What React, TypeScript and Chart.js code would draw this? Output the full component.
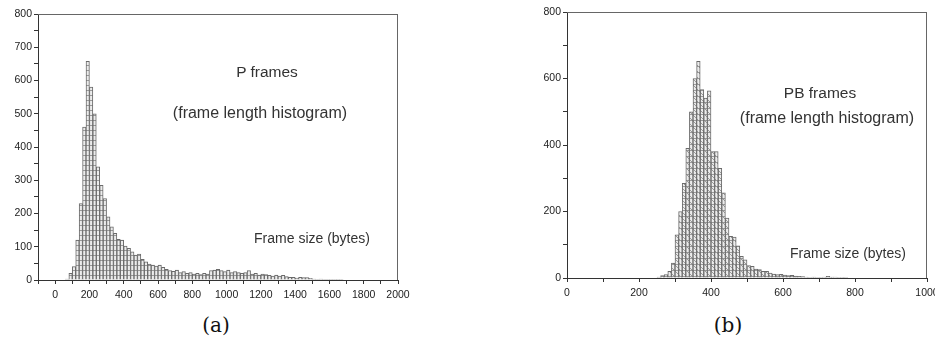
import React, { useEffect, useRef } from 'react';
import { Chart, registerables } from 'chart.js';

Chart.register(...registerables);

// ---- Data: P frames (bin starts, bin width 20 bytes) ----
const pBinWidth = 20;
const pBinStarts = [
  60, 80, 100, 120, 140, 160, 180, 200, 220, 240, 260, 280, 300, 320, 340, 360, 380, 400, 420, 440,
  460, 480, 500, 520, 540, 560, 580, 600, 620, 640, 660, 680, 700, 720, 740, 760, 780, 800, 820, 840,
  860, 880, 900, 920, 940, 960, 980, 1000, 1020, 1040, 1060, 1080, 1100, 1120, 1140, 1160, 1180, 1200,
  1220, 1240, 1260, 1280, 1300, 1320, 1340, 1360, 1380, 1400, 1420, 1440, 1460, 1480, 1500, 1520, 1540,
  1560, 1580, 1600, 1620, 1640, 1660,
];
const pCounts = [
  3, 20, 40, 120, 230, 460, 658, 580, 500, 340, 285, 245, 190, 160, 140, 122, 120, 102, 95, 85,
  75, 78, 62, 55, 48, 45, 42, 45, 38, 32, 28, 26, 30, 22, 25, 20, 22, 18, 20, 16,
  20, 18, 28, 30, 32, 28, 25, 30, 22, 25, 22, 20, 22, 28, 18, 20, 15, 18,
  16, 14, 12, 15, 12, 14, 10, 8, 8, 6, 8, 7, 7, 5, 3, 2, 3,
  2, 2, 2, 2, 1, 2,
];

// ---- Data: PB frames (bin starts, bin width 10 bytes) ----
const pbBinWidth = 10;
const pbBinStarts = [
  250, 260, 270, 280, 290, 300, 310, 320, 330, 340, 350, 360, 370, 380, 390, 400, 410, 420, 430, 440,
  450, 460, 470, 480, 490, 500, 510, 520, 530, 540, 550, 560, 570, 580, 590, 600, 610, 620, 630, 640,
  650, 660, 670, 680, 690, 700, 710, 720, 730, 740, 750, 760, 770,
];
const pbCounts = [
  3, 7, 10, 20, 45, 130, 200, 285, 390, 500, 600, 652, 567, 541, 563, 380, 380, 330, 256, 180,
  125, 123, 97, 65, 55, 37, 35, 27, 25, 20, 20, 15, 12, 10, 11, 9, 7, 8, 6, 5,
  4, 3, 2, 3, 2, 2, 3, 5, 3, 3, 2, 2, 1,
];

// ---- Axis settings ----
const pXMin = -100, pXMax = 2000, pXStep = 100, pXLabelEvery = 200;
const pYMax = 800, pYStep = 50, pYLabelEvery = 100;
const pbXMin = 0, pbXMax = 1000, pbXStep = 100, pbXLabelEvery = 200;
const pbYMax = 800, pbYStep = 100, pbYLabelEvery = 200;

const AXIS = '#333333';
const FRAME = '#666666';
const BAR_EDGE = '#6a6a6a';
const TICK_FONT = { family: '"Liberation Sans", Arial, sans-serif', size: 10.5 };

function makePattern(kind: 'grid' | 'diag'): CanvasPattern | string {
  const c = document.createElement('canvas');
  const n = kind === 'grid' ? 5 : 6;
  c.width = n;
  c.height = n;
  const g = c.getContext('2d');
  if (!g) return '#ddd';
  g.fillStyle = '#ececec';
  g.fillRect(0, 0, n, n);
  g.fillStyle = '#9a9a9a';
  g.fillRect(0, 0, n, 1);
  if (kind === 'diag') {
    g.strokeStyle = '#9a9a9a';
    g.lineWidth = 1;
    g.beginPath();
    g.moveTo(0, 0);
    g.lineTo(n, n);
    g.stroke();
  }
  const p = g.createPattern(c, 'repeat');
  return p || '#ddd';
}

const framePlugin = {
  id: 'frameBox',
  afterDraw(chart: any) {
    const { ctx, chartArea } = chart;
    ctx.save();
    ctx.strokeStyle = FRAME;
    ctx.lineWidth = 1;
    ctx.beginPath();
    ctx.moveTo(chartArea.left, Math.round(chartArea.top) + 0.5);
    ctx.lineTo(chartArea.right, Math.round(chartArea.top) + 0.5);
    ctx.moveTo(Math.round(chartArea.right) - 0.5, chartArea.top);
    ctx.lineTo(Math.round(chartArea.right) - 0.5, chartArea.bottom);
    ctx.stroke();
    ctx.restore();
  },
};

interface HistProps {
  starts: number[];
  counts: number[];
  width: number;
  xMin: number; xMax: number; xStep: number; xLabelEvery: number;
  yMax: number; yStep: number; yLabelEvery: number;
  pattern: 'grid' | 'diag';
  yAxisWidth: number;
  pad: { left: number; right: number; top: number; bottom: number };
  canvasW: number; canvasH: number;
}

function Histogram(props: HistProps) {
  const ref = useRef<HTMLCanvasElement>(null);
  useEffect(() => {
    if (!ref.current) return;
    const data = props.starts.map((s, i) => ({ x: s + props.width / 2, y: props.counts[i] }));
    const chart = new Chart(ref.current, {
      type: 'bar',
      data: {
        datasets: [
          {
            data,
            backgroundColor: makePattern(props.pattern) as any,
            borderColor: BAR_EDGE,
            borderWidth: 1,
            barPercentage: 1,
            categoryPercentage: 1,
            borderSkipped: 'bottom',
          },
        ],
      },
      options: {
        animation: false,
        responsive: false,
        maintainAspectRatio: false,
        layout: { padding: props.pad },
        plugins: { legend: { display: false }, tooltip: { enabled: false } },
        scales: {
          x: {
            type: 'linear',
            min: props.xMin,
            max: props.xMax,
            offset: false,
            afterFit: (s: any) => { s.height = 30; },
            grid: { display: true, offset: false, drawOnChartArea: false, drawTicks: true, tickLength: 4, color: AXIS },
            border: { display: true, color: AXIS },
            ticks: {
              stepSize: props.xStep,
              autoSkip: false,
              maxRotation: 0,
              padding: 5,
              color: '#222',
              font: TICK_FONT,
              callback: (v: any) => (v >= 0 && v % props.xLabelEvery === 0 ? String(v) : ''),
            },
          },
          y: {
            type: 'linear',
            min: 0,
            max: props.yMax,
            afterFit: (s: any) => { s.width = props.yAxisWidth; },
            grid: { display: true, drawOnChartArea: false, drawTicks: true, tickLength: 4, color: AXIS },
            border: { display: true, color: AXIS },
            ticks: {
              stepSize: props.yStep,
              autoSkip: false,
              padding: 2,
              color: '#222',
              font: TICK_FONT,
              callback: (v: any) => (v % props.yLabelEvery === 0 ? String(v) : ''),
            },
          },
        },
      },
      plugins: [framePlugin],
    });
    return () => chart.destroy();
  }, []);
  return <canvas ref={ref} width={props.canvasW} height={props.canvasH} style={{ width: props.canvasW, height: props.canvasH, display: 'block' }} />;
}

const labelStyle = (x: number, y: number, size: number): React.CSSProperties => ({
  position: 'absolute',
  left: x,
  top: y,
  transform: 'translate(-50%, -50%)',
  whiteSpace: 'nowrap',
  fontFamily: '"Liberation Sans", Arial, sans-serif',
  fontSize: size,
  color: '#333',
});

const captionStyle = (x: number, y: number): React.CSSProperties => ({
  position: 'absolute',
  left: x,
  top: y,
  transform: 'translate(-50%, -50%)',
  whiteSpace: 'nowrap',
  fontFamily: '"DejaVu Serif", serif',
  fontSize: 20,
  color: '#111',
});

export default function App() {
  return (
    <div style={{ position: 'fixed', left: 0, top: 0, width: 935, height: 345, overflow: 'hidden', background: '#fff' }}>
      <div style={{ position: 'absolute', left: 0, top: 0 }}>
        <Histogram
          starts={pBinStarts} counts={pCounts} width={pBinWidth}
          xMin={pXMin} xMax={pXMax} xStep={pXStep} xLabelEvery={pXLabelEvery}
          yMax={pYMax} yStep={pYStep} yLabelEvery={pYLabelEvery}
          pattern="grid" yAxisWidth={38}
          pad={{ left: 0, right: 22, top: 14, bottom: 0 }}
          canvasW={420} canvasH={310}
        />
      </div>
      <div style={{ position: 'absolute', left: 500, top: 0 }}>
        <Histogram
          starts={pbBinStarts} counts={pbCounts} width={pbBinWidth}
          xMin={pbXMin} xMax={pbXMax} xStep={pbXStep} xLabelEvery={pbXLabelEvery}
          yMax={pbYMax} yStep={pbYStep} yLabelEvery={pbYLabelEvery}
          pattern="diag" yAxisWidth={67}
          pad={{ left: 0, right: 23, top: 12, bottom: 2 }}
          canvasW={450} canvasH={310}
        />
      </div>
      <div style={labelStyle(267, 72, 15.5)}>P frames</div>
      <div style={labelStyle(260, 113, 16)}>(frame length histogram)</div>
      <div style={labelStyle(312, 238, 14)}>Frame size (bytes)</div>
      <div style={labelStyle(820, 93, 15.5)}>PB frames</div>
      <div style={labelStyle(827, 118, 16)}>(frame length histogram)</div>
      <div style={labelStyle(848, 253, 14)}>Frame size (bytes)</div>
      <div style={captionStyle(216, 325)}>(a)</div>
      <div style={captionStyle(728, 325)}>(b)</div>
    </div>
  );
}
